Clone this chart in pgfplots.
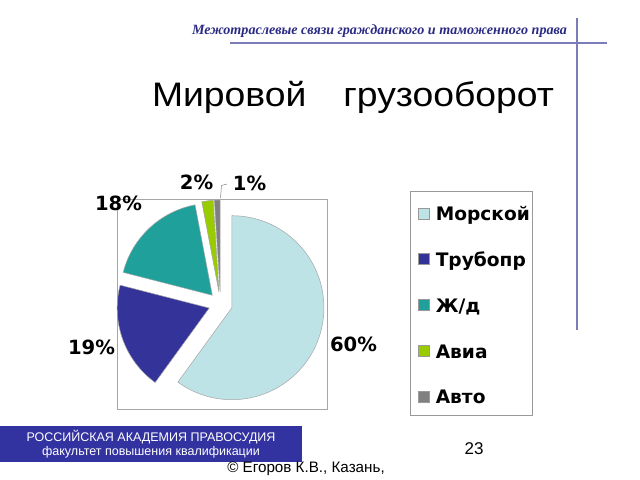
\documentclass[border=0pt]{standalone}
\usepackage{pgfplots}
\pgfplotsset{compat=1.18}
\usepackage{fontspec}
\setmainfont{Liberation Sans}
\newfontfamily\dv{DejaVu Sans}
\newfontfamily\hdr{Liberation Serif}
\definecolor{cMor}{HTML}{BDE3E6}
\definecolor{cTru}{HTML}{33339A}
\definecolor{cZhd}{HTML}{20A09A}
\definecolor{cAvi}{HTML}{99CC00}
\definecolor{cAvt}{HTML}{808080}
\definecolor{hdrblue}{HTML}{2A2A85}
\definecolor{linecol}{HTML}{7C7CB8}
\definecolor{footblue}{HTML}{3232A0}
\begin{document}
\begin{tikzpicture}[x=1bp,y=1bp]
\path[use as bounding box] (0,0) rectangle (640,480);
% header
\node[anchor=base, text=hdrblue, inner sep=0pt, font=\hdr\bfseries\itshape\fontsize{14.1bp}{16bp}\selectfont] at (379.5,445) {Межотраслевые связи гражданского и таможенного права};
\draw[linecol, line width=1.5bp] (230,437) -- (607,437);
\draw[linecol, line width=1.5bp] (577,462) -- (577,150);
% title
\node[anchor=base, inner sep=0pt, font=\fontsize{34bp}{40bp}\selectfont] at (353,373) {\scalebox{1.097}[1]{Мировой}\hspace{37bp}\scalebox{1.097}[1]{грузооборот}};
% footer
\fill[footblue] (0,18) rectangle (302,54);
\node[text=white, align=center, inner sep=0pt, font=\fontsize{12.5bp}{14bp}\selectfont] at (151,36) {РОССИЙСКАЯ АКАДЕМИЯ ПРАВОСУДИЯ\\факультет повышения квалификации};
\node[inner sep=0pt, font=\fontsize{17bp}{20bp}\selectfont] at (474,31) {23};
\node[inner sep=0pt, font=\fontsize{15.2bp}{17bp}\selectfont] at (306,11) {© Егоров К.В., Казань,};
\begin{axis}[
  at={(117,71)}, anchor=south west,
  scale only axis, width=210bp, height=210bp,
  xmin=117, xmax=327, ymin=71, ymax=281,
  xtick=\empty, ytick=\empty,
  axis line style={draw=gray!70, line width=0.6bp},
  clip=false,
  legend image code/.code={\path (0bp,0bp); \draw[#1] (6bp,-7bp) rectangle (17bp,4bp);},
  legend cell align=left,
  legend style={at={(axis description cs:1.3952,1.0357)}, anchor=north west,
    draw=gray!80, line width=0.6bp, fill=white,
    inner xsep=2bp, inner ysep=11bp, row sep=27.75bp, column sep=6bp,
    font=\dv\bfseries\fontsize{18.6bp}{20bp}\selectfont,
    nodes={inner sep=0pt, text height=18bp, text depth=0bp}},
]
\addlegendimage{fill=cMor, draw=gray!80, line width=0.5bp}
\addlegendentry{Морской}
\addlegendimage{fill=cTru, draw=gray!80, line width=0.5bp}
\addlegendentry{Трубопр}
\addlegendimage{fill=cZhd, draw=gray!80, line width=0.5bp}
\addlegendentry{Ж/д}
\addlegendimage{fill=cAvi, draw=gray!80, line width=0.5bp}
\addlegendentry{Авиа}
\addlegendimage{fill=cAvt, draw=gray!80, line width=0.5bp}
\addlegendentry{Авто}
\pgfplotsextra{%
 \gdef\cum{0}%
 \foreach \v/\c in {60/cMor,19/cTru,18/cZhd,2/cAvi,1/cAvt}{%
   \pgfmathsetmacro\sa{90-3.6*\cum}%
   \pgfmathsetmacro\ea{90-3.6*(\cum+\v)}%
   \pgfmathsetmacro\ma{(\sa+\ea)/2}%
   \pgfmathsetmacro\ox{220.5+12*cos(\ma)}%
   \pgfmathsetmacro\oy{176+12*sin(\ma)}%
   \pgfmathsetmacro\px{\ox+92*cos(\sa)}%
   \pgfmathsetmacro\py{\oy+92*sin(\sa)}%
   \filldraw[fill=\c, draw=gray!70, line width=0.5bp] (axis cs:\ox,\oy) -- (axis cs:\px,\py) arc[start angle=\sa, end angle=\ea, radius=92] -- cycle;%
   \pgfmathsetmacro\nc{\cum+\v}%
   \global\let\cum\nc
 }%
}
\draw[gray, line width=0.5bp] (axis cs:227,296) -- (axis cs:221.5,294.5) -- (axis cs:220.5,282);
\begin{scope}[every node/.style={inner sep=0pt, font=\dv\bfseries\fontsize{19.6bp}{22bp}\selectfont}]
\node at (axis cs:353.5,136) {60\%};
\node at (axis cs:91.5,132.5) {19\%};
\node at (axis cs:118.5,276.5) {18\%};
\node at (axis cs:196.5,297.5) {2\%};
\node at (axis cs:249.5,297) {1\%};
\end{scope}
\end{axis}
\end{tikzpicture}
\end{document}
